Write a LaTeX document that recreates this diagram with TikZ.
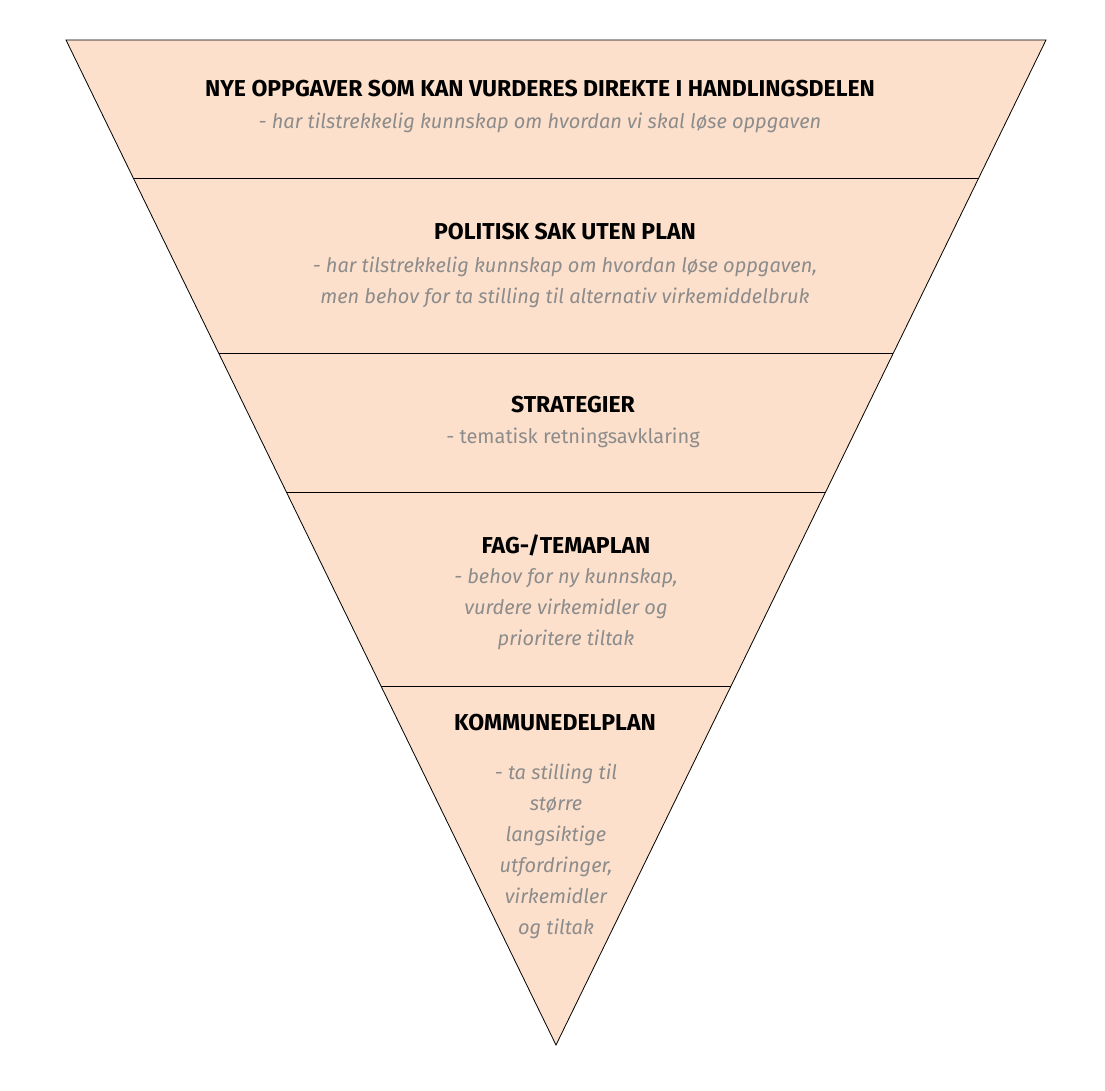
\documentclass[tikz,border=0pt]{standalone}
\usepackage{fontspec}
\setmainfont{Fira Sans}
\definecolor{peach}{HTML}{FCE0CB}
\definecolor{sub}{HTML}{8C8C8C}
\begin{document}
\begin{tikzpicture}[x=1pt,y=-1pt,
  ttl/.style={font=\fontsize{23}{26}\selectfont\bfseries,text=black,inner sep=0},
  sbt/.style={font=\fontsize{20}{31}\selectfont\itshape,text=sub,align=center,inner sep=0},
  sbn/.style={font=\fontsize{20}{31}\selectfont,text=sub,align=center,inner sep=0}]
\useasboundingbox (0,0) rectangle (1105,1091);
\coordinate (tl) at (66,40); \coordinate (tr) at (1046,40); \coordinate (ap) at (556,1045);
\draw[fill=peach,line width=0.8pt] (tl) -- (tr) -- (ap) -- cycle;
\foreach \y in {178,353,492,686}{
  \pgfmathsetmacro\dx{(\y-40)*0.48756}
  \draw[line width=0.8pt] ({66+\dx},\y) -- ({1046-\dx},\y);
}
\node[ttl] (t1) at (540,89) {NYE OPPGAVER SOM KAN VURDERES DIREKTE I HANDLINGSDELEN};
\node[sbt] (s1) at (540,123) {- har tilstrekkelig kunnskap om hvordan vi skal løse oppgaven};
\node[ttl] (t2) at (565,232) {POLITISK SAK UTEN PLAN};
\node[sbt] (s2) at (565,282) {- har tilstrekkelig kunnskap om hvordan løse oppgaven,\\men behov for ta stilling til alternativ virkemiddelbruk};
\node[ttl] (t3) at (573,405) {STRATEGIER};
\node[sbn] (s3) at (573,438) {- tematisk retningsavklaring};
\node[ttl] (t4) at (566,545) {FAG-/TEMAPLAN};
\node[sbt] (s4) at (566,609) {- behov for ny kunnskap,\\vurdere virkemidler og\\prioritere tiltak};
\node[ttl] (t5) at (555,723) {KOMMUNEDELPLAN};
\node[sbt] (s5) at (556,851) {- ta stilling til\\større\\langsiktige\\utfordringer,\\virkemidler\\og tiltak};
\end{tikzpicture}
\end{document}
